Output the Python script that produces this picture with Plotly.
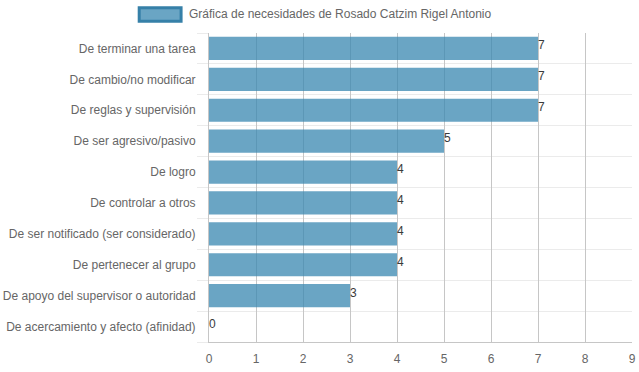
import plotly.graph_objects as go

categories = [
    "De terminar una tarea",
    "De cambio/no modificar",
    "De reglas y supervisión",
    "De ser agresivo/pasivo",
    "De logro",
    "De controlar a otros",
    "De ser notificado (ser considerado)",
    "De pertenecer al grupo",
    "De apoyo del supervisor o autoridad",
    "De acercamiento y afecto (afinidad)",
]
values = [7, 7, 7, 5, 4, 4, 4, 4, 3, 0]
series_name = "Gráfica de necesidades de Rosado Catzim Rigel Antonio"
x_ticks = list(range(0, 10))

positions = list(range(len(categories)))
FONT = "Liberation Sans, Arial, sans-serif"

fig = go.Figure()
fig.add_trace(go.Bar(
    x=values, y=positions, orientation="h", width=0.75,
    marker=dict(color="rgba(56,135,176,0.75)", line=dict(width=0)),
    showlegend=False, hoverinfo="x+y",
))

annotations = [
    dict(x=v, y=p, xref="x", yref="y", text=str(v), showarrow=False,
         xanchor="left", yanchor="middle", xshift=-2, yshift=3,
         font=dict(family=FONT, size=12, color="#3a3a3a"))
    for v, p in zip(values, positions)
]
# legend
annotations.append(dict(
    x=-0.052, y=1.060, xref="paper", yref="paper", text=series_name,
    showarrow=False, xanchor="left", yanchor="middle",
    font=dict(family=FONT, size=12, color="#666666")))

fig.update_layout(
    width=639, height=372,
    autosize=False,
    margin=dict(l=209, r=7, t=33, b=30, autoexpand=False),
    paper_bgcolor="white", plot_bgcolor="white",
    font=dict(family=FONT, size=12, color="#666666"),
    showlegend=False,
    annotations=annotations,
    shapes=[dict(type="rect", xref="paper", yref="paper",
                 x0=-0.165, x1=-0.066, y0=1.038, y1=1.082,
                 fillcolor="rgba(56,135,176,0.75)",
                 line=dict(color="rgb(54,128,168)", width=3))],
    xaxis=dict(
        range=[0, 9], tickvals=x_ticks, ticktext=[str(t) for t in x_ticks],
        automargin=False,
        showgrid=True, gridcolor="#c6c6c6", gridwidth=1,
        zeroline=False, showline=True, linecolor="#c6c6c6",
        ticks="outside", ticklen=6, tickcolor="rgba(0,0,0,0)",
        tickfont=dict(family=FONT, size=12, color="#666666"),
    ),
    yaxis=dict(
        range=[9.5, -0.5], tickvals=positions, ticktext=categories,
        automargin=False,
        showgrid=False, zeroline=False, showline=True, linecolor="#c6c6c6",
        ticks="outside", ticklen=10, tickcolor="rgba(0,0,0,0)",
        tickfont=dict(family=FONT, size=12, color="#666666"),
        minor=dict(tick0=0.5, dtick=1, showgrid=True, gridcolor="#ebebeb",
                   ticks="outside", ticklen=11, tickcolor="#ebebeb"),
    ),
)

fig.write_html("out.html", config={"displayModeBar": False},
               post_script="document.body.style.margin='0';document.body.style.overflow='hidden';")
